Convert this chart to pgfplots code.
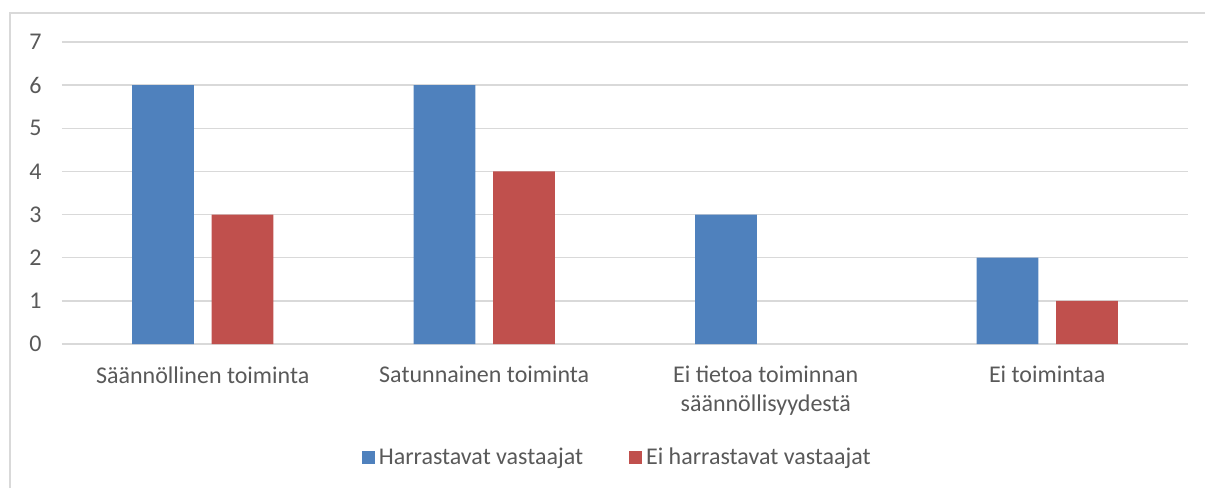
\documentclass[border=0pt]{standalone}
\usepackage{pgfplots}
\pgfplotsset{compat=1.18}
\usepackage{fontspec}
\setmainfont{Carlito}
\definecolor{sblue}{HTML}{4F81BD}
\definecolor{sred}{HTML}{C0504D}
\definecolor{gridc}{HTML}{D9D9D9}
\definecolor{txt}{HTML}{595959}
\newcommand\cf{\fontsize{12}{14.5}\selectfont}
\begin{document}
\begin{tikzpicture}[x=1pt,y=1pt]
\useasboundingbox (0,0) rectangle (602.5,244);
\draw[gridc, line width=0.7pt] (5,0) -- (5,237.5) -- (602.5,237.5);
\begin{axis}[
  at={(31pt,72pt)}, anchor=south west,
  scale only axis, width=563pt, height=151pt,
  xmin=-0.5, xmax=3.5, ymin=0, ymax=7,
  ytick={0,1,2,3,4,5,6,7}, xtick={0,1,2,3},
  xticklabels={Säännöllinen toiminta, Satunnainen toiminta, {Ei tietoa toiminnan\\säännöllisyydestä}, Ei toimintaa},
  /pgf/number format/assume math mode=true,
  major tick length=0pt,
  axis line style={draw=none},
  ymajorgrids, grid style={gridc, line width=0.7pt},
  tick label style={font=\cf, text=txt},
  yticklabel style={inner sep=0pt, xshift=-10pt},
  xticklabel style={inner sep=0pt, yshift=-11pt, align=center},
  ybar, bar width=0.219,
  legend style={at={(0.494,-0.377)}, anchor=center, draw=none, font=\cf, text=txt,
    legend columns=2, /tikz/every even column/.append style={column sep=21pt}},
  legend image code/.code={\fill[#1,draw=none] (-1.5pt,-3.25pt) rectangle (5pt,3.25pt);},
]
\addplot[fill=sblue, draw=none, bar shift=-0.141] coordinates {(0,6) (1,6) (2,3) (3,2)};
\addplot[fill=sred, draw=none, bar shift=0.141] coordinates {(0,3) (1,4) (3,1)};
\legend{Harrastavat vastaajat, Ei harrastavat vastaajat}
\end{axis}
\end{tikzpicture}
\end{document}
